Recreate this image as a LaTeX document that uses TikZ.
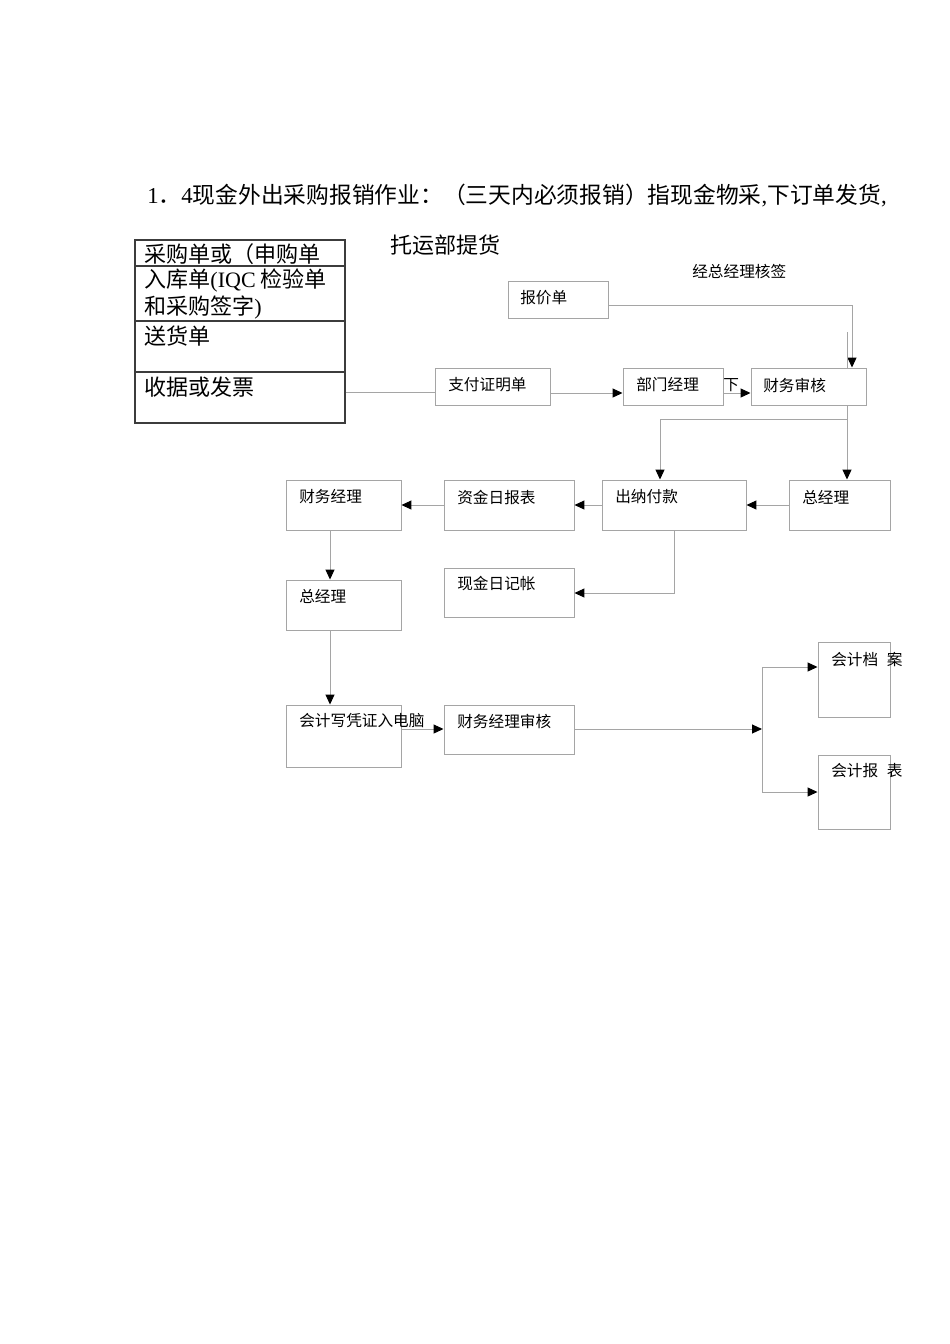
\documentclass[tikz,border=0pt]{standalone}
\usepackage{fontspec}
\setmainfont{Noto Sans CJK SC}
\newfontfamily\latin{Liberation Serif}
\usetikzlibrary{arrows.meta}
\usetikzlibrary{positioning}
\usetikzlibrary{fit}
\definecolor{linegray}{RGB}{165,165,165}
\definecolor{framegray}{RGB}{60,60,60}
\tikzset{
  box/.style={draw=linegray, line width=0.6pt, inner sep=0pt},
  lbl/.style={anchor=west, inner sep=0pt, font=\fontsize{9.8pt}{11pt}\selectfont},
  big/.style={anchor=west, inner sep=0pt, font=\fontsize{13.8pt}{15pt}\selectfont},
  wire/.style={draw=linegray, line width=0.6pt},
  conn/.style={wire, -{Triangle[color=black, length=6.2pt, width=5.6pt]}},
}

\begin{document}
\begin{tikzpicture}[x=0.6263pt, y=-0.6263pt]
    \useasboundingbox (0,0) rectangle (950,1344);

    \node[big, font=\fontsize{14.25pt}{16pt}\selectfont] (title) at (147,196)
      {{\latin 1}．{\latin 4}现金外出采购报销作业：（三天内必须报销）指现金物采{\latin ,}下订单发货{\latin ,}};
    \node[big] (tuoyun) at (390,245) {托运部提货};

    % list of documents
    \node[draw=framegray, line width=0.7pt, inner sep=0pt, fit={(135,240) (345,423)}] (docs) {};
    \draw[framegray, line width=0.7pt] (docs.west |- 0,266) -- (docs.east |- 0,266);
    \draw[framegray, line width=0.7pt] (docs.west |- 0,321) -- (docs.east |- 0,321);
    \draw[framegray, line width=0.7pt] (docs.west |- 0,372) -- (docs.east |- 0,372);
    \node[big] (cgd) at (144,254) {采购单或（申购单};
    \node[big] (rkd) at (144,281) {入库单{\latin (IQC} 检验单};
    \node[big] (cgqz) at (144,308) {和采购签字{\latin )}};
    \node[big] (shd) at (144,336) {送货单};
    \node[big] (fp) at (144,387) {收据或发票};

    % boxes
    \node[box, fit={(508,281) (608,318)}] (bjd) {};
    \node[box, fit={(435,368) (550,405)}] (zfzm) {};
    \node[box, fit={(623,368) (723,405)}] (bmjl) {};
    \node[box, fit={(751,368) (866,405)}] (cwsh) {};
    \node[box, fit={(789,480) (890,530)}] (zjlA) {};
    \node[box, fit={(602,480) (746,530)}] (cnfk) {};
    \node[box, fit={(444,480) (574,530)}] (zjrb) {};
    \node[box, fit={(286,480) (401,530)}] (cwjl) {};
    \node[box, fit={(286,580) (401,630)}] (zjlB) {};
    \node[box, fit={(444,568) (574,617)}] (xjrj) {};
    \node[box, fit={(286,705) (401,767)}] (kjpz) {};
    \node[box, fit={(444,705) (574,754)}] (cwjlsh) {};
    \node[box, fit={(818,642) (890,717)}] (kjda) {};
    \node[box, fit={(818,755) (890,829)}] (kjbb) {};

    \node[lbl] (bjdT) at (520,298) {报价单};
    \node[lbl] (zfzmT) at (448,385) {支付证明单};
    \node[lbl] (bmjlT) at (636,385) {部门经理};
    \node[lbl] (xia) at (723,385) {下};
    \node[lbl] (cwshT) at (763,385) {财务审核};
    \node[lbl] (hq) at (692,272) {经总经理核签};
    \node[lbl] (zjlAT) at (802,497) {总经理};
    \node[lbl] (cnfkT) at (615,497) {出纳付款};
    \node[lbl] (zjrbT) at (457,497) {资金日报表};
    \node[lbl] (cwjlT) at (299,497) {财务经理};
    \node[lbl] (zjlBT) at (299,596) {总经理};
    \node[lbl] (xjrjT) at (457,584) {现金日记帐};
    \node[lbl] (kjpzT) at (299,721) {会计写凭证入电脑};
    \node[lbl] (cwjlshT) at (457,721) {财务经理审核};
    \node[lbl] (kjdaT) at (831,659) {会计档\hspace{0.55em}案};
    \node[lbl] (kjbbT) at (831,771) {会计报\hspace{0.55em}表};

    % connectors
    \draw[wire] (docs.east |- 0,392) -- (zfzm.west |- 0,392);
    \draw[conn] (zfzm.east |- 0,393) -- (bmjl.west |- 0,393);
    \draw[conn] (bmjl.east |- 0,393) -- (cwsh.west |- 0,393);
    \draw[conn] (bjd.east |- 0,305) -- (852,305) -- (cwsh.north -| 852,0);
    \draw[wire] (847,332) -- (cwsh.north -| 847,0);
    \draw[conn] (cwsh.south -| 847,0) -- (zjlA.north -| 847,0);
    \draw[conn] (847,419) -- (660,419) -- (cnfk.north -| 660,0);
    \draw[conn] (zjlA.west) -- (cnfk.east);
    \draw[conn] (cnfk.west) -- (zjrb.east);
    \draw[conn] (zjrb.west) -- (cwjl.east);
    \draw[conn] (cnfk.south -| 674,0) -- (674,593) -- (xjrj.east |- 0,593);
    \draw[conn] (cwjl.south -| 330,0) -- (zjlB.north -| 330,0);
    \draw[conn] (zjlB.south -| 330,0) -- (kjpz.north -| 330,0);
    \draw[conn] (kjpz.east |- 0,729) -- (cwjlsh.west |- 0,729);
    \coordinate (fork) at (762,729);
    \draw[conn] (cwjlsh.east |- fork) -- (fork);
    \draw[conn] (fork) -- (762,667) -- (kjda.west |- 0,667);
    \draw[conn] (fork) -- (762,792) -- (kjbb.west |- 0,792);
  \end{tikzpicture}
\end{document}
